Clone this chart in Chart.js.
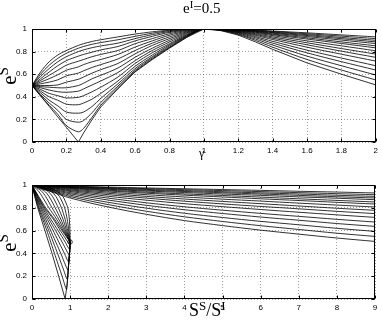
<!DOCTYPE html>
<html>
<head>
<meta charset="utf-8">
<script src="https://cdn.jsdelivr.net/npm/chart.js@4.4.1/dist/chart.umd.min.js"></script>
<style>
html, body { margin: 0; padding: 0; background: #fff; }
#wrap { position: relative; width: 382px; height: 332px; overflow: hidden; }
canvas { position: absolute; left: 0; }
.lbl { position: absolute; font-family: "Liberation Serif", "Times New Roman", serif; color: #000; white-space: nowrap; line-height: 1; }
.lbl sup { font-size: 0.72em; vertical-align: 0.5em; line-height: 0; }
.rot { transform: translate(-50%, -50%) rotate(-90deg); }
</style>
</head>
<body>
<div id="wrap">
  <canvas id="top" width="382" height="166" style="top:0"></canvas>
  <canvas id="bottom" width="382" height="166" style="top:166px"></canvas>
  <div class="lbl" style="left:183px;top:1px;font-size:15px">e<sup>I</sup>=0.5</div>
  <div class="lbl" style="left:199px;top:147px;font-size:12px">&gamma;</div>
  <div class="lbl rot" style="left:9px;top:76px;font-size:21px">e<sup>S</sup></div>
  <div class="lbl rot" style="left:9px;top:243px;font-size:21px">e<sup>S</sup></div>
  <div class="lbl" style="left:189px;top:301px;font-size:18px">S<sup>S</sup>/S<sup>I</sup></div>
</div>
<script>
// top panel: e^S against gamma, one row per curve
const gammaGrid = [0, 0.05, 0.1, 0.15, 0.2, 0.27, 0.3, 0.35, 0.4, 0.5, 0.6, 0.7, 0.8, 0.9, 1.0, 1.1, 1.2, 1.3, 1.4, 1.6, 1.8, 2.0];
const eGamma = [
  [.5, .62, .71, .77, .81, .855, .87, .89, .905, .93, .955, .975, .99, .998, 1, .999, .995, .990, .982, .966, .948, .93],
  [.5, .60, .68, .74, .785, .83, .845, .865, .88, .905, .935, .963, .985, .996, 1, .999, .994, .988, .978, .958, .937, .915],
  [.5, .58, .65, .71, .755, .80, .815, .835, .85, .875, .915, .95, .978, .994, 1, .998, .992, .985, .973, .950, .925, .90],
  [.5, .56, .62, .675, .72, .76, .775, .795, .815, .845, .895, .935, .97, .99, 1, .998, .991, .982, .968, .942, .914, .886],
  [.5, .545, .59, .635, .68, .715, .73, .755, .775, .81, .87, .915, .958, .986, 1, .998, .990, .979, .963, .933, .902, .871],
  [.5, .53, .56, .595, .635, .665, .685, .71, .73, .775, .84, .895, .945, .98, 1, .997, .988, .975, .956, .922, .886, .851],
  [.5, .515, .53, .55, .585, .61, .63, .66, .685, .735, .81, .875, .93, .974, 1, .997, .986, .971, .950, .911, .872, .833],
  [.5, .50, .50, .505, .53, .555, .575, .61, .64, .695, .78, .855, .915, .967, 1, .996, .983, .965, .941, .895, .851, .807],
  [.5, .49, .485, .48, .48, .50, .52, .56, .59, .655, .75, .83, .90, .96, 1, .995, .980, .958, .930, .878, .827, .778],
  [.5, .48, .46, .445, .44, .45, .47, .505, .54, .615, .72, .81, .885, .952, 1, .994, .976, .951, .919, .860, .804, .749],
  [.5, .465, .43, .41, .39, .395, .41, .445, .485, .575, .695, .79, .87, .946, 1, .993, .972, .943, .907, .839, .777, .716],
  [.5, .45, .40, .37, .335, .33, .345, .38, .43, .54, .67, .77, .86, .94, 1, .992, .968, .933, .891, .813, .743, .675],
  [.5, .435, .37, .32, .265, .255, .265, .315, .385, .515, .65, .755, .85, .936, 1, .990, .963, .923, .875, .789, .711, .637],
  [.5, .42, .345, .28, .20, .175, .19, .26, .35, .495, .635, .745, .84, .932, 1, .989, .957, .911, .858, .760, .675, .593],
  [.5, .41, .325, .245, .145, .09, .12, .22, .325, .48, .625, .735, .835, .928, 1, .987, .952, .899, .839, .730, .637, .549],
  [.5, .407, .315, .222, .13, 0, .08, .20, .31, .47, .62, .73, .83, .925, 1, .985, .946, .886, .820, .700, .600, .505]
];

// bottom panel, right-hand family: e^S against S^S/S^I
const ratioGrid = [0, 0.5, 1, 2, 3, 4, 5, 6, 7, 8, 9];
const eRatio = [
  [1, .995, .990, .982, .974, .967, .960, .953, .945, .938, .930],
  [1, .994, .988, .977, .968, .959, .951, .942, .933, .924, .915],
  [1, .992, .985, .972, .961, .951, .941, .931, .921, .910, .900],
  [1, .991, .982, .967, .954, .943, .932, .921, .909, .897, .886],
  [1, .989, .979, .962, .947, .934, .921, .909, .896, .884, .871],
  [1, .987, .975, .955, .937, .922, .908, .894, .879, .865, .851],
  [1, .985, .971, .948, .928, .911, .895, .879, .864, .848, .833],
  [1, .982, .965, .938, .915, .895, .876, .859, .841, .824, .807],
  [1, .978, .958, .927, .900, .877, .856, .836, .816, .796, .778],
  [1, .975, .951, .915, .885, .858, .834, .812, .791, .769, .749],
  [1, .971, .943, .901, .867, .836, .810, .785, .761, .738, .716],
  [1, .965, .933, .885, .844, .809, .779, .751, .725, .699, .675],
  [1, .960, .923, .868, .822, .783, .750, .719, .691, .662, .637],
  [1, .954, .911, .848, .797, .752, .715, .681, .651, .620, .593],
  [1, .947, .899, .828, .770, .721, .680, .643, .610, .577, .549],
  [1, .941, .886, .807, .743, .688, .644, .604, .569, .535, .505]
];

// bottom panel, left fan: points
const fanX = [
  [0, .3, .63, .81, .94, .98, .995, 1],
  [0, .552, .719, .857, .924, .966, 1],
  [0, .474, .628, .774, .868, .936, 1],
  [0, .396, .538, .691, .813, .907, 1],
  [0, .319, .447, .609, .757, .878, 1],
  [0, .241, .357, .526, .702, .849, 1],
  [0, .163, .266, .443, .646, .819, 1],
  [0, .085, .175, .36, .59, .79, 1],
  [0, .16, .33, .56, .745, .99, 1],
  [0, .145, .305, .685, .87, .98, 1],
  [0, .13, .275, .62, .79, .97, .985, 1],
  [0, .115, .245, .555, .85, .955, .985, 1],
  [0, .10, .22, .49, .755, .94, .96, .985, 1],
  [0, .09, .19, .44, .67, .835, .92, .95, .96, .985, 1],
  [0, .08, .17, .39, .59, .79, .905, .94, .96, .985, 1],
  [0, .07, .15, .34, .525, .70, .87, .91, .94, .96, .985, 1]
];
const fanE = [
  [1, .995, .95, .9, .8, .7, .6, .5],
  [1, .95, .9, .8, .7, .6, .5],
  [1, .95, .9, .8, .7, .6, .5],
  [1, .95, .9, .8, .7, .6, .5],
  [1, .95, .9, .8, .7, .6, .5],
  [1, .95, .9, .8, .7, .6, .5],
  [1, .95, .9, .8, .7, .6, .5],
  [1, .95, .9, .8, .7, .6, .5],
  [1, .9, .8, .7, .6, .477, .5],
  [1, .9, .8, .6, .5, .438, .5],
  [1, .9, .8, .6, .5, .388, .42, .5],
  [1, .9, .8, .6, .4, .327, .4, .5],
  [1, .9, .8, .6, .4, .253, .3, .4, .5],
  [1, .9, .8, .6, .4, .25, .174, .25, .3, .4, .5],
  [1, .9, .8, .6, .4, .2, .085, .2, .3, .4, .5],
  [1, .9, .8, .6, .4, .2, 0, .1, .2, .3, .4, .5]
];
const markerX = [1];
const markerY = [0.5];

const gammaTicks = [0, 0.2, 0.4, 0.6, 0.8, 1, 1.2, 1.4, 1.6, 1.8, 2];
const ratioTicks = [0, 1, 2, 3, 4, 5, 6, 7, 8, 9];
const eTicks = [0, 0.2, 0.4, 0.6, 0.8, 1];

const LINE = 'rgba(0,0,0,0.9)';
const GRID = 'rgba(0,0,0,0.38)';
const TICK_FONT = { family: '"Liberation Sans", Arial, sans-serif', size: 8 };

// box round the plot plus inward tick marks, as matlab draws it
const frame = {
  id: 'frame',
  afterDraw(chart) {
    const { ctx, chartArea: a, scales } = chart;
    const l = Math.round(a.left) + 0.5, r = Math.round(a.right) - 0.5;
    const t = Math.round(a.top) + 0.5, b = Math.round(a.bottom) - 0.5;
    ctx.save();
    ctx.strokeStyle = '#000';
    ctx.lineWidth = 1;
    ctx.beginPath();
    scales.x.ticks.forEach(tk => {
      const px = Math.round(scales.x.getPixelForValue(tk.value)) + 0.5;
      ctx.moveTo(px, b); ctx.lineTo(px, b - 3);
      ctx.moveTo(px, t); ctx.lineTo(px, t + 3);
    });
    scales.y.ticks.forEach(tk => {
      const py = Math.round(scales.y.getPixelForValue(tk.value)) + 0.5;
      ctx.moveTo(l, py); ctx.lineTo(l + 3, py);
      ctx.moveTo(r, py); ctx.lineTo(r - 3, py);
    });
    ctx.stroke();
    ctx.strokeRect(l, t, r - l, b - t);
    ctx.restore();
  }
};

function axes(xMin, xMax, xTicks, xHeight) {
  return {
    x: {
      type: 'linear', min: xMin, max: xMax,
      afterBuildTicks: s => { s.ticks = xTicks.map(v => ({ value: v })); },
      afterFit: s => { s.height = xHeight; },
      grid: { color: GRID, lineWidth: 1, drawTicks: false },
      border: { display: false, dash: [1, 2] },
      ticks: { padding: 4, font: TICK_FONT, color: '#000', maxRotation: 0, autoSkip: false, callback: v => String(v) }
    },
    y: {
      type: 'linear', min: 0, max: 1,
      afterBuildTicks: s => { s.ticks = eTicks.map(v => ({ value: v })); },
      afterFit: s => { s.width = 32; },
      grid: { color: GRID, lineWidth: 1, drawTicks: false },
      border: { display: false, dash: [1, 2] },
      ticks: { padding: 5, font: TICK_FONT, color: '#000', callback: v => String(v) }
    }
  };
}

function curve(xs, ys, tension) {
  return {
    data: ys.map((y, j) => ({ x: xs[j], y: y })),
    showLine: true,
    borderColor: LINE,
    borderWidth: 0.9,
    pointRadius: 0,
    tension: tension
  };
}

const common = {
  responsive: false,
  animation: false,
  events: [],
  plugins: { legend: { display: false }, tooltip: { enabled: false } }
};

new Chart(document.getElementById('top'), {
  type: 'scatter',
  data: {
    datasets: eGamma.map((row, i) => curve(gammaGrid, row, i === eGamma.length - 1 ? 0 : 0.3))
  },
  options: Object.assign({}, common, {
    layout: { padding: { top: 29, right: 6, left: 0, bottom: 0 } },
    scales: axes(0, 2, gammaTicks, 24)
  }),
  plugins: [frame]
});

const bottomSets = eRatio.map(row => curve(ratioGrid, row, 0.3))
  .concat(fanE.map((row, i) => curve(fanX[i], row, i === fanE.length - 1 ? 0 : 0.2)));
bottomSets.push({
  data: markerX.map((x, j) => ({ x: x, y: markerY[j] })),
  showLine: false,
  pointRadius: 2.2,
  pointBorderWidth: 0.8,
  pointBorderColor: '#000',
  pointBackgroundColor: 'rgba(0,0,0,0)'
});

new Chart(document.getElementById('bottom'), {
  type: 'scatter',
  data: { datasets: bottomSets },
  options: Object.assign({}, common, {
    layout: { padding: { top: 19, right: 7, left: 0, bottom: 0 } },
    scales: axes(0, 9, ratioTicks, 33)
  }),
  plugins: [frame]
});
</script>
</body>
</html>
